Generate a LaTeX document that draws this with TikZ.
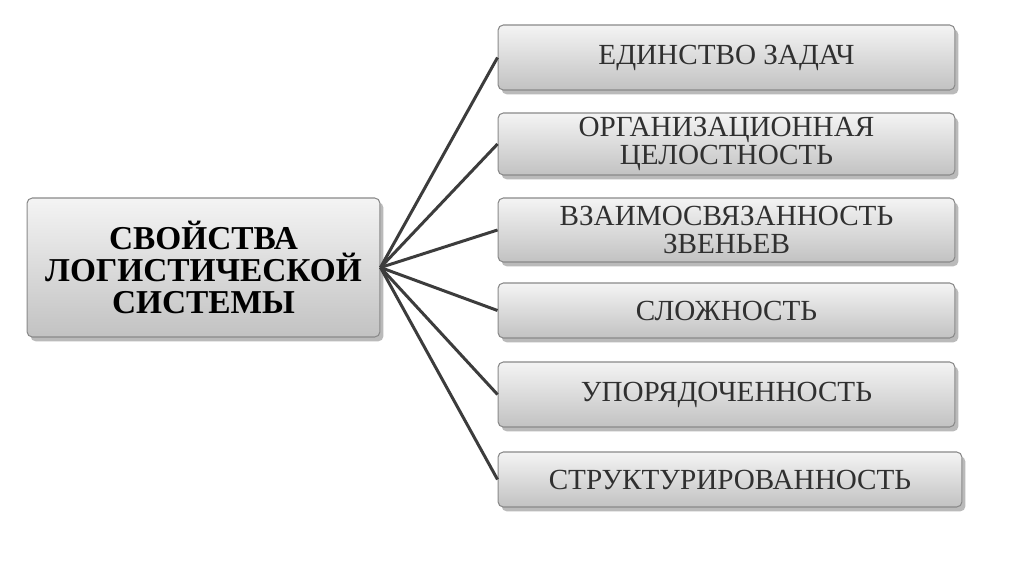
\documentclass[tikz,border=0pt]{standalone}
\usepackage{fontspec}
\setmainfont{Liberation Serif}
\usetikzlibrary{shadows}
\definecolor{boxtop}{HTML}{F4F4F4}
\definecolor{boxbot}{HTML}{C2C2C2}
\definecolor{boxline}{HTML}{8A8A8A}
\definecolor{linkgray}{HTML}{3C3C3C}
\definecolor{txtgray}{HTML}{303030}
\tikzset{
  propbox/.style={draw=boxline,line width=0.6pt,rounded corners=3pt,
    top color=boxtop,bottom color=boxbot,
    drop shadow={shadow xshift=2pt,shadow yshift=-2.5pt,opacity=0.45,fill=black!60},
    inner sep=0pt,align=center},
  mainbox/.style={propbox,minimum width=7.06cm,minimum height=2.78cm,
    font=\fontsize{19}{18.3}\selectfont\bfseries,text=black},
  itembox/.style={propbox,minimum width=9.14cm,
    font=\fontsize{16.6}{15.8}\selectfont,text=txtgray},
  link/.style={draw=linkgray,line width=1.7pt}
}
\begin{document}
\begin{tikzpicture}[x=0.02cm,y=-0.02cm]
 \useasboundingbox[fill=white] (0,0) rectangle (1024,574);
% main box
 \node[mainbox] (prop) at (203.5,267.5) {СВОЙСТВА\\ЛОГИСТИЧЕСКОЙ\\СИСТЕМЫ};
% properties
 \node[itembox,minimum height=1.30cm] (q1) at (726.5,57.5) {ЕДИНСТВО ЗАДАЧ};
 \node[itembox,minimum height=1.24cm] (q2) at (726.5,144) {ОРГАНИЗАЦИОННАЯ\\ЦЕЛОСТНОСТЬ};
 \node[itembox,minimum height=1.28cm] (q3) at (726.5,230) {ВЗАИМОСВЯЗАННОСТЬ\\ЗВЕНЬЕВ};
 \node[itembox,minimum height=1.10cm] (q4) at (726.5,310.5) {СЛОЖНОСТЬ};
 \node[itembox,minimum height=1.30cm] (q5) at (726.5,394.5) {УПОРЯДОЧЕННОСТЬ};
 \node[itembox,minimum height=1.10cm,minimum width=9.28cm] (q6) at (730,479.5) {СТРУКТУРИРОВАННОСТЬ};
% links
 \draw[link] (prop.east) -- (q1.west);
 \draw[link] (prop.east) -- (q2.west);
 \draw[link] (prop.east) -- (q3.west);
 \draw[link] (prop.east) -- (q4.west);
 \draw[link] (prop.east) -- (q5.west);
 \draw[link] (prop.east) -- (q6.west);
\end{tikzpicture}
\end{document}
